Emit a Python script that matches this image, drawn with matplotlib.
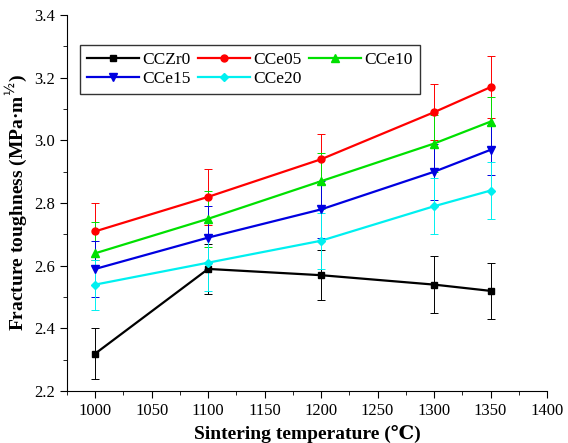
import numpy as np
import matplotlib.pyplot as plt
from matplotlib.ticker import MultipleLocator

# sintering temperatures (C)
temps = [1000, 1100, 1200, 1300, 1350]

# fracture toughness values and error bars for each sample
names = ['CCZr0', 'CCe05', 'CCe10', 'CCe15', 'CCe20']
zr0 = [2.32, 2.59, 2.57, 2.54, 2.52]
ce05 = [2.71, 2.82, 2.94, 3.09, 3.17]
ce10 = [2.64, 2.75, 2.87, 2.99, 3.06]
ce15 = [2.59, 2.69, 2.78, 2.90, 2.97]
ce20 = [2.54, 2.61, 2.68, 2.79, 2.84]
zr0_err = [0.08, 0.08, 0.08, 0.09, 0.09]
ce05_err = [0.09, 0.09, 0.08, 0.09, 0.10]
ce10_err = [0.10, 0.09, 0.09, 0.09, 0.08]
ce15_err = [0.09, 0.10, 0.09, 0.09, 0.08]
ce20_err = [0.08, 0.09, 0.09, 0.09, 0.09]

series = [zr0, ce05, ce10, ce15, ce20]
errors = [zr0_err, ce05_err, ce10_err, ce15_err, ce20_err]
colors = ['black', '#ff0000', '#00e000', '#0000e0', '#00f0f0']
markers = ['s', 'o', '^', 'v', 'D']
msizes = [5, 5, 6, 6, 4.5]

plt.rcParams['font.family'] = ['Liberation Serif', 'DejaVu Serif', 'Noto Sans CJK SC']

fig = plt.figure(figsize=(5.68, 4.43), dpi=100)
ax = fig.add_axes([0.118, 0.117, 0.845, 0.849])

handles = []
for y, e, c, m, ms, n in zip(series, errors, colors, markers, msizes, names):
    h = ax.errorbar(temps, y, yerr=e, color=c, ecolor=c, elinewidth=0.7, capsize=3,
                    capthick=0.7, marker=m, markersize=ms, linewidth=1.6, label=n)
    handles.append(h.lines[0])  # line + marker only for the legend

ax.set_xlim(975, 1400)
ax.set_ylim(2.2, 3.4)
ax.xaxis.set_major_locator(MultipleLocator(50))
ax.xaxis.set_minor_locator(MultipleLocator(25))
ax.yaxis.set_major_locator(MultipleLocator(0.2))
ax.yaxis.set_minor_locator(MultipleLocator(0.1))
ax.tick_params(which='both', direction='out', labelsize=12)
ax.tick_params(which='major', length=5)
ax.tick_params(which='minor', length=3)
ax.spines['top'].set_visible(False)
ax.spines['right'].set_visible(False)

ax.set_xlabel('Sintering temperature (℃)', fontsize=14, fontweight='bold')
ax.set_ylabel('Fracture toughness (MPa·m$^{½}$)', fontsize=14, fontweight='bold')

# legend fills row by row in the reference
order = [0, 3, 1, 4, 2]
leg = ax.legend([handles[i] for i in order], [names[i] for i in order], ncol=3,
                loc='upper left', bbox_to_anchor=(0.027, 0.92), borderaxespad=0,
                fontsize=12.5, frameon=True, fancybox=False, edgecolor='black',
                columnspacing=0.4, handlelength=3, handletextpad=0.2,
                labelspacing=0.15, borderpad=0.4)
leg.get_frame().set_linewidth(1)

plt.savefig('out.png')
